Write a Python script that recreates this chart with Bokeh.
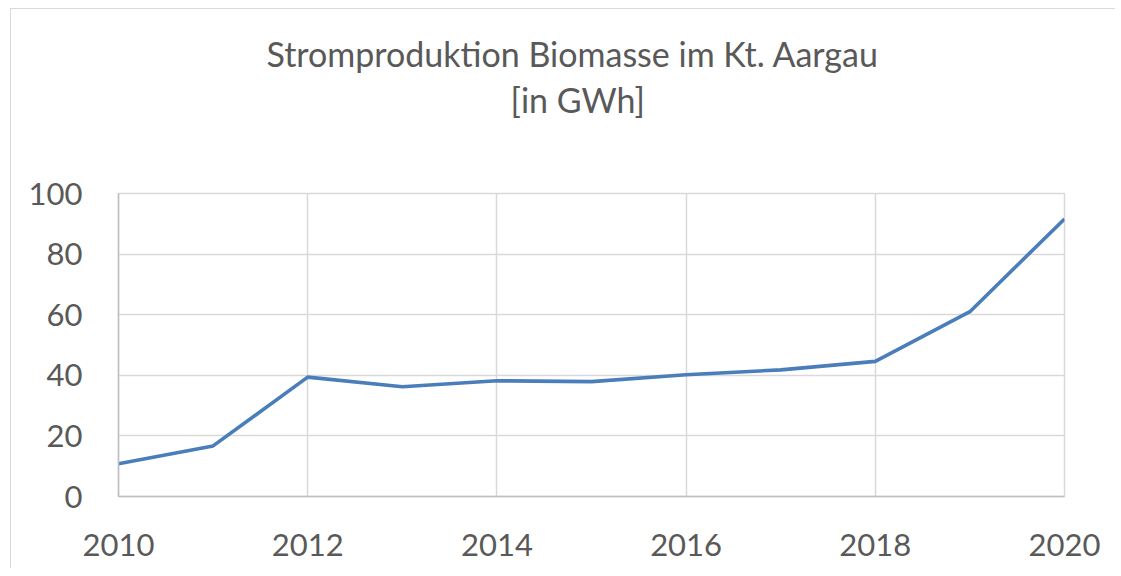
from bokeh.plotting import figure
from bokeh.models import Title, FixedTicker, Range1d
from bokeh.embed import file_html
from bokeh.resources import INLINE

years = [2010, 2011, 2012, 2013, 2014, 2015, 2016, 2017, 2018, 2019, 2020]
gwh = [10.8, 16.7, 39.4, 36.2, 38.2, 37.9, 40.2, 41.8, 44.6, 61.0, 91.6]
x_ticks = [2010, 2012, 2014, 2016, 2018, 2020]
y_ticks = [0, 20, 40, 60, 80, 100]

title_line1 = "Stromproduktion Biomasse im Kt. Aargau"
title_line2 = "[in GWh]"

FONT = "Lato"
TXT = "#595959"
GRID = "#d9d9d9"

p = figure(width=1105, height=560, output_backend="svg", toolbar_location=None,
           x_range=Range1d(2010, 2020), y_range=Range1d(0, 100),
           min_border_left=107, min_border_right=52, min_border_top=184, min_border_bottom=73,
           styles={"border-left": "1px solid #d9d9d9", "border-top": "1px solid #d9d9d9",
                   "margin-left": "10px", "margin-top": "8px"})

p.title = Title(text=title_line1, align="left", offset=148, text_font=FONT,
                text_font_size="34px", text_font_style="normal", text_color=TXT, standoff=1)
# invisible spacer between the title block and the plot area
p.add_layout(Title(text=" ", text_font_size="1px", standoff=69), "above")
p.add_layout(Title(text=title_line2, align="left", offset=392, text_font=FONT,
                   text_font_size="34px", text_font_style="normal", text_color=TXT,
                   standoff=4), "above")

p.line(years, gwh, line_color="#4A7EBB", line_width=3.6, line_join="round")

p.xaxis.ticker = FixedTicker(ticks=x_ticks)
p.yaxis.ticker = FixedTicker(ticks=y_ticks)
for ax in (p.xaxis[0], p.yaxis[0]):
    ax.major_label_text_font = FONT
    ax.major_label_text_font_size = "31px"
    ax.major_label_text_color = TXT
    ax.axis_line_color = "#bfbfbf"
    ax.axis_line_width = 1.5
    ax.major_tick_line_color = None
    ax.minor_tick_line_color = None
p.xaxis.major_label_standoff = 31
p.yaxis.major_label_standoff = 30

p.xgrid.ticker = FixedTicker(ticks=x_ticks)
p.ygrid.ticker = FixedTicker(ticks=y_ticks)
p.xgrid.grid_line_color = GRID
p.ygrid.grid_line_color = GRID
p.xgrid.grid_line_width = 1.5
p.ygrid.grid_line_width = 1.5
p.outline_line_color = GRID
p.outline_line_width = 1.5

open("out.html", "w").write(file_html(p, INLINE))
